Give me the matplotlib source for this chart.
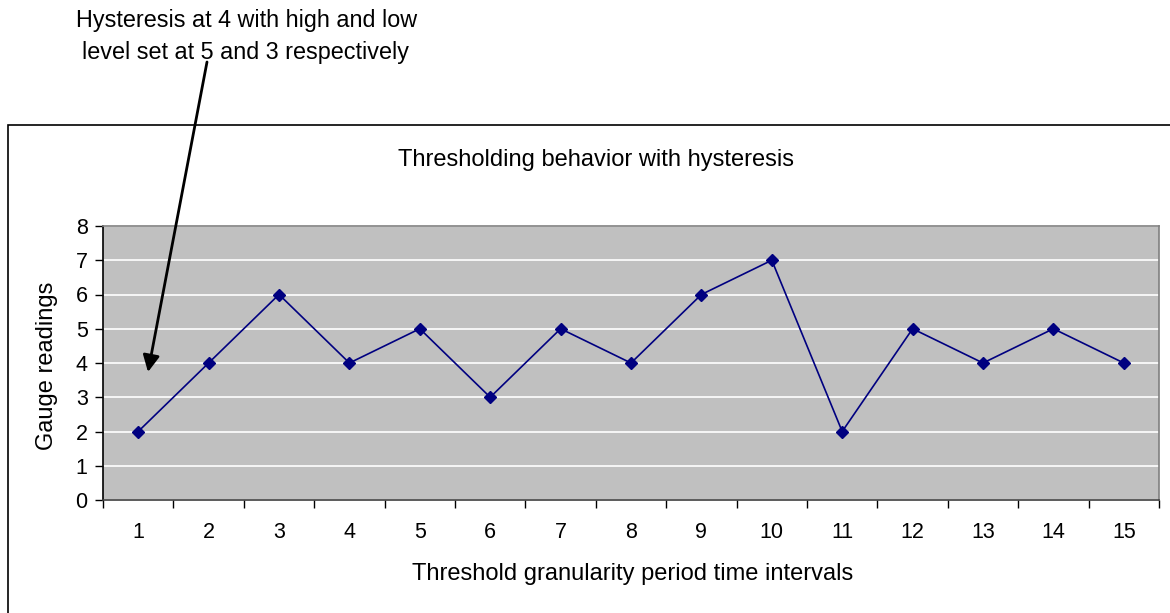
import numpy as np
import matplotlib.pyplot as plt
from matplotlib.patches import Rectangle

plt.rcParams['font.family'] = ['Liberation Sans', 'DejaVu Sans']

# ── Data ─────────────────────────────────────────────────────────────────────
intervals = np.arange(1, 16)
readings = [2, 4, 6, 4, 5, 3, 5, 4, 6, 7, 2, 5, 4, 5, 4]
y_ticks = list(range(0, 9))

W, H = 1170, 613
fig = plt.figure(figsize=(W / 100, H / 100), dpi=100)
fig.patch.set_facecolor('white')

# outer chart frame (right and bottom edges run off the picture)
fig.patches.append(Rectangle((8 / W, -0.05), 1.2, 0.05 + (1 - 125 / H),
                             transform=fig.transFigure, fill=False,
                             edgecolor='black', linewidth=1.2))

ax = fig.add_axes([103 / W, 1 - 500 / H, (1159 - 103) / W, (500 - 226) / H])
ax.set_facecolor('#c0c0c0')

ax.plot(intervals, readings, color='#000080', linewidth=1.2,
        marker='D', markersize=6.5, markerfacecolor='#000080',
        markeredgecolor='#000080', zorder=3)

ax.set_xlim(0.5, 15.5)
ax.set_ylim(0, 8)
ax.set_yticks(y_ticks)
ax.yaxis.grid(True, color='white', linewidth=1.2)
ax.set_axisbelow(True)

ax.set_xticks(intervals)
ax.set_xticks(np.arange(0.5, 16, 1), minor=True)
ax.tick_params(axis='x', which='major', length=0, pad=16, labelsize=15.5)
ax.tick_params(axis='x', which='minor', length=6, width=1, color='black')
ax.tick_params(axis='y', length=6, width=1, pad=5, labelsize=15.5)

ax.spines['left'].set_color('black')
ax.spines['bottom'].set_color('#404040')
ax.spines['top'].set_color('#808080')
ax.spines['right'].set_color('#808080')
for s in ax.spines.values():
    s.set_linewidth(1.2)

# axis titles
fig.text(633 / W, 1 - 574 / H, 'Threshold granularity period time intervals',
         ha='center', va='center', fontsize=17)
fig.text(47 / W, 1 - 366 / H, 'Gauge readings', rotation=90,
         ha='center', va='center', fontsize=17)

fig.text(596 / W, 1 - 160 / H, 'Thresholding behavior with hysteresis',
         ha='center', va='center', fontsize=17)

# note with arrow
fig.text(417 / W, 1 - 20 / H, 'Hysteresis at 4 with high and low',
         ha='right', va='center', fontsize=16.8)
fig.text(409 / W, 1 - 53 / H, 'level set at 5 and 3 respectively',
         ha='right', va='center', fontsize=16.8)

ax.annotate('', xy=(148, H - 372), xycoords='figure pixels',
            xytext=(207, H - 62), textcoords='figure pixels',
            arrowprops=dict(arrowstyle='-|>', color='black', lw=2,
                            mutation_scale=25, shrinkA=0, shrinkB=0),
            annotation_clip=False, zorder=5)

fig.savefig('out.png', dpi=100, facecolor='white')
